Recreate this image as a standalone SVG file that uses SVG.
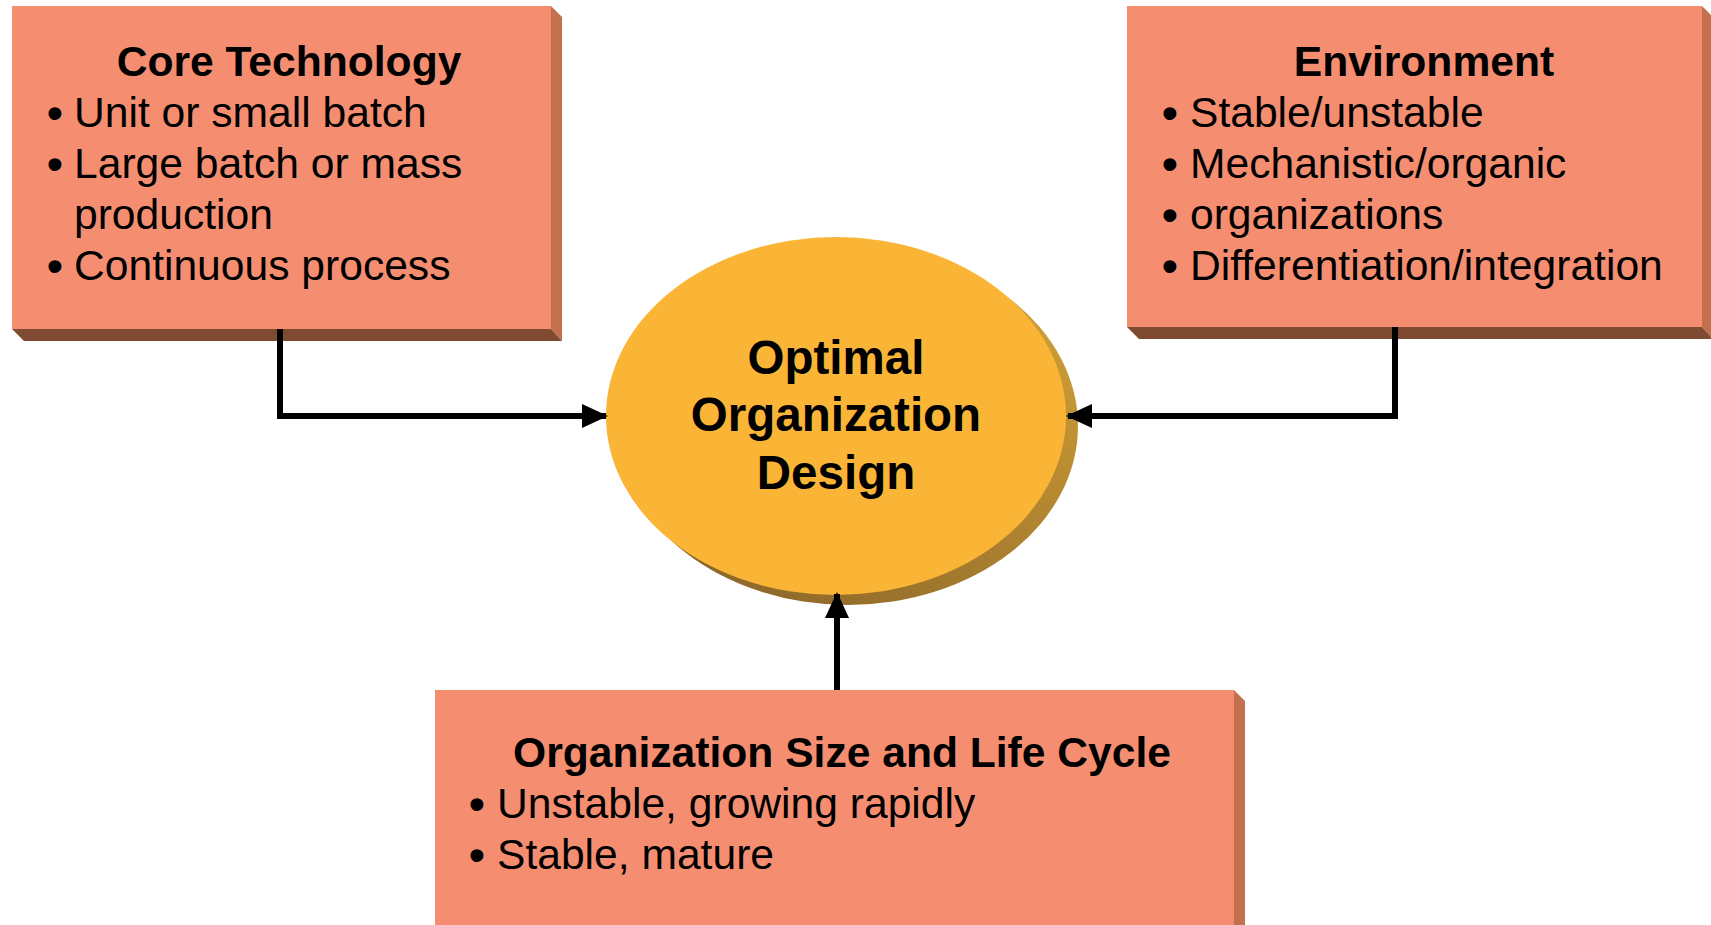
<svg xmlns="http://www.w3.org/2000/svg" width="1711" height="925" viewBox="0 0 1711 925">
<defs>
<style>
.front{fill:#F58E71;}
.side{fill:#C3704F;}
.bottom{fill:#7E4A31;}
.t{font-family:"Liberation Sans",Arial,sans-serif;font-size:42.6px;fill:#000;}
.bu{font-size:45px;font-weight:bold;}
.b{font-weight:bold;}
.c{text-anchor:middle;}
.conn{fill:none;stroke:#000;stroke-width:6;}
</style>
<linearGradient id="sh" x1="1" y1="0" x2="0.2" y2="1">
<stop offset="0" stop-color="#D9A638"/>
<stop offset="1" stop-color="#8A6529"/>
</linearGradient>
<marker id="arr" markerUnits="userSpaceOnUse" markerWidth="26" markerHeight="26" viewBox="0 0 26 26" refX="24" refY="13" orient="auto">
<path d="M0,1 L26,13 L0,25 Z" fill="#000"/>
</marker>
</defs>
<rect width="1711" height="925" fill="#fff"/>

<g id="core-technology">
<polygon class="side" points="551,6 562,17 562,341 551,329"/>
<polygon class="bottom" points="12,329 551,329 562,341 24,341"/>
<rect class="front" x="12" y="6" width="539" height="323"/>
<text class="t b c" x="289" y="76">Core Technology</text>
<text class="t" x="47" y="127"><tspan class="bu" dy="1">•</tspan><tspan x="74" dy="-1">Unit or small batch</tspan></text>
<text class="t" x="47" y="178"><tspan class="bu" dy="1">•</tspan><tspan x="74" dy="-1">Large batch or mass</tspan></text>
<text class="t" x="74" y="229">production</text>
<text class="t" x="47" y="280"><tspan class="bu" dy="1">•</tspan><tspan x="74" dy="-1">Continuous process</tspan></text>
</g>

<g id="environment">
<polygon class="side" points="1702,6 1713,17 1713,339 1702,327"/>
<polygon class="bottom" points="1127,327 1702,327 1713,339 1139,339"/>
<rect class="front" x="1127" y="6" width="575" height="321"/>
<text class="t b c" x="1424" y="76">Environment</text>
<text class="t" x="1162" y="127"><tspan class="bu" dy="1">•</tspan><tspan x="1190" dy="-1">Stable/unstable</tspan></text>
<text class="t" x="1162" y="178"><tspan class="bu" dy="1">•</tspan><tspan x="1190" dy="-1">Mechanistic/organic</tspan></text>
<text class="t" x="1162" y="229"><tspan class="bu" dy="1">•</tspan><tspan x="1190" dy="-1">organizations</tspan></text>
<text class="t" x="1162" y="280"><tspan class="bu" dy="1">•</tspan><tspan x="1190" dy="-1">Differentiation/integration</tspan></text>
</g>

<g id="size-life-cycle">
<polygon class="side" points="1234,690 1245,701 1245,930 1234,930"/>
<rect class="front" x="435" y="690" width="799" height="240"/>
<text class="t b c" x="842" y="767">Organization Size and Life Cycle</text>
<text class="t" x="469" y="818"><tspan class="bu" dy="1">•</tspan><tspan x="497" dy="-1">Unstable, growing rapidly</tspan></text>
<text class="t" x="469" y="869"><tspan class="bu" dy="1">•</tspan><tspan x="497" dy="-1">Stable, mature</tspan></text>
</g>

<g id="optimal-design">
<ellipse cx="848" cy="426" rx="230" ry="179" fill="url(#sh)"/>
<ellipse cx="836" cy="416" rx="230" ry="179" fill="#FAB536"/>
<text class="t b c" style="font-size:47.5px" x="836" y="374">Optimal</text>
<text class="t b c" style="font-size:47.5px" x="836" y="431">Organization</text>
<text class="t b c" style="font-size:47.5px" x="836" y="489">Design</text>
</g>

<g id="connectors">
<path class="conn" d="M280,329 L280,416 L606,416" marker-end="url(#arr)"/>
<path class="conn" d="M1395,327 L1395,416 L1068,416" marker-end="url(#arr)"/>
<path class="conn" d="M837,690 L837,594" marker-end="url(#arr)"/>
</g>
</svg>
